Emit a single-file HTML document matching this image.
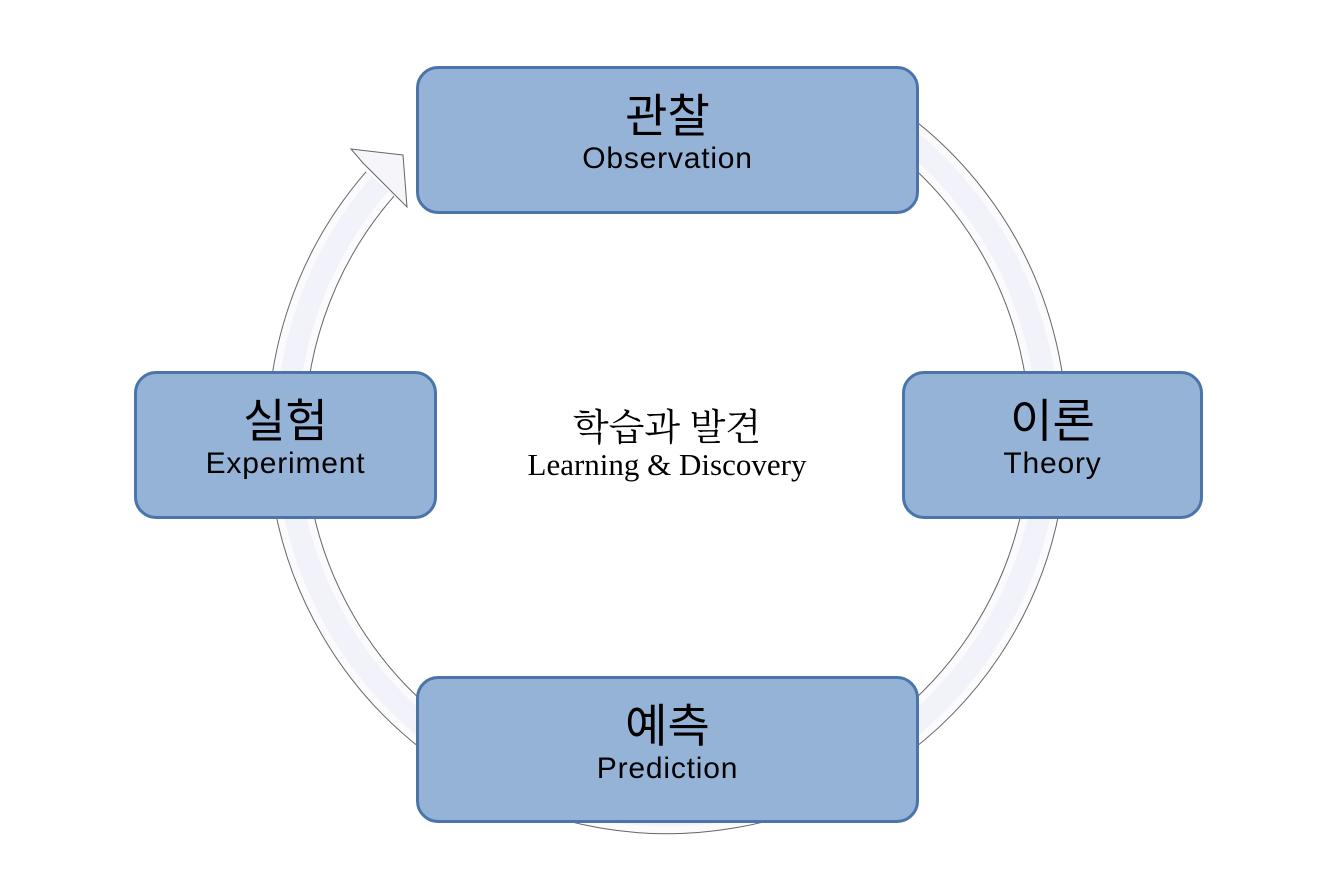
<!DOCTYPE html>
<html><head><meta charset="utf-8"><style>
html,body{margin:0;padding:0;background:#fff;}
body{width:1334px;height:889px;position:relative;overflow:hidden;font-family:"Liberation Sans","Noto Sans CJK KR",sans-serif;}
.box{position:absolute;background:#95b3d7;border:3px solid #4a74aa;border-radius:22px;box-sizing:border-box;text-align:center;color:#000;}
.ko{font-size:46px;line-height:52px;margin-top:18px;font-family:"Noto Sans CJK KR","NanumGothic",sans-serif;}
.en{font-size:30px;line-height:34px;margin-top:3px;letter-spacing:0.8px;}
</style></head><body>
<svg width="1334" height="889" style="position:absolute;left:0;top:0">
<path d="M857.5 104 A381 381 0 1 1 380 184" fill="none" stroke="#666" stroke-width="38"/>
<path d="M857.5 104 A381 381 0 1 1 380 184" fill="none" stroke="#fbfbfe" stroke-width="36"/>
<path d="M857.5 104 A381 381 0 1 1 380 184" fill="none" stroke="#f2f3fa" stroke-width="22"/>
<polygon points="351,149 403,155 407,207 392,192 363,163" fill="#f6f6fa" stroke="#666" stroke-width="1"/>
</svg>
<div class="box" style="left:416px;top:66px;width:503px;height:148px"><div class="ko">관찰</div><div class="en">Observation</div></div>
<div class="box" style="left:134px;top:371px;width:303px;height:148px"><div class="ko">실험</div><div class="en">Experiment</div></div>
<div class="box" style="left:902px;top:371px;width:301px;height:148px"><div class="ko">이론</div><div class="en">Theory</div></div>
<div class="box" style="left:416px;top:676px;width:503px;height:147px"><div class="ko">예측</div><div class="en">Prediction</div></div>
<div style="position:absolute;left:417px;top:401px;width:500px;text-align:center;font-family:'Liberation Serif','Noto Serif CJK SC',serif;">
<div style="font-size:37px;line-height:46px;font-family:'Noto Serif CJK SC','Noto Sans CJK KR',serif;">학습과 발견</div>
<div style="font-size:31px;line-height:36px;">Learning &amp; Discovery</div>
</div>
</body></html>
